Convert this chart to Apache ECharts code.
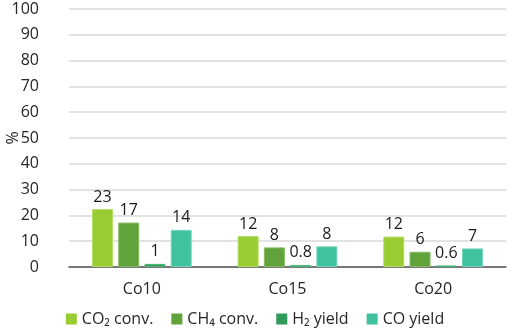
<!DOCTYPE html>
<html>
<head>
<meta charset="utf-8">
<script src="https://cdn.jsdelivr.net/npm/echarts@6/dist/echarts.min.js"></script>
<style>
  html, body { margin: 0; padding: 0; background: #fff; }
  #chart { width: 510px; height: 335px; }
</style>
</head>
<body>
<div id="chart"></div>
<script>
const categories = ["Co10", "Co15", "Co20"];
const seriesNames = ["CO₂ conv.", "CH₄ conv.", "H₂ yield", "CO yield"];
const co2Conv = [22.5, 12, 11.8];
const ch4Conv = [17.2, 7.6, 5.9];
const h2Yield = [1.2, 0.8, 0.6];
const coYield = [14.4, 8, 7.2];
const labelText = [
  ["23", "12", "12"],
  ["17", "8", "6"],
  ["1", "0.8", "0.6"],
  ["14", "8", "7"],
];
const colors = ["#99cc33", "#5fa33a", "#2e9b5b", "#40c1a0"];
const borders = ["#b5dd66", "#84bd63", "#4fb57a", "#74d5bb"];

const chart = echarts.init(document.getElementById("chart"));
const font = "'Open Sans', sans-serif";

const values = [co2Conv, ch4Conv, h2Yield, coYield];

const options = {
  animation: false,
  textStyle: { fontFamily: font },
  grid: { left: 69, right: 4, top: 9, bottom: 68, outerBoundsMode: "none" },
  legend: {
    bottom: 3,
    left: "center",
    itemWidth: 11,
    itemHeight: 11,
    itemGap: 18,
    itemStyle: { borderWidth: 0 },
    icon: "rect",
    textStyle: { fontSize: 16, color: "#262626", fontFamily: font },
    data: seriesNames,
  },
  xAxis: {
    type: "category",
    data: categories,
    axisTick: { show: false },
    axisLine: { lineStyle: { color: "#555", width: 1.5 } },
    axisLabel: { fontSize: 16, color: "#262626", margin: 14 },
  },
  yAxis: {
    type: "value",
    min: 0,
    max: 100,
    interval: 10,
    name: "%",
    nameLocation: "middle",
    nameGap: 48,
    nameMoveOverlap: false,
    nameTextStyle: { fontSize: 16, color: "#262626" },
    axisLine: { show: false },
    axisTick: { show: false },
    axisLabel: { fontSize: 16, color: "#262626", margin: 30 },
    splitLine: { lineStyle: { color: "#d9d9d9", width: 1.5 } },
  },
  series: values.map((vals, i) => ({
    name: seriesNames[i],
    type: "bar",
    data: vals,
    barWidth: 21,
    barGap: "25%",
    itemStyle: { color: colors[i], borderColor: borders[i], borderWidth: 1 },
    label: {
      show: true,
      position: "top",
      distance: 4,
      fontSize: 16,
      color: "#1a1a1a",
      formatter: (p) => labelText[i][p.dataIndex],
    },
  })),
};

chart.setOption(options);
</script>
</body>
</html>
